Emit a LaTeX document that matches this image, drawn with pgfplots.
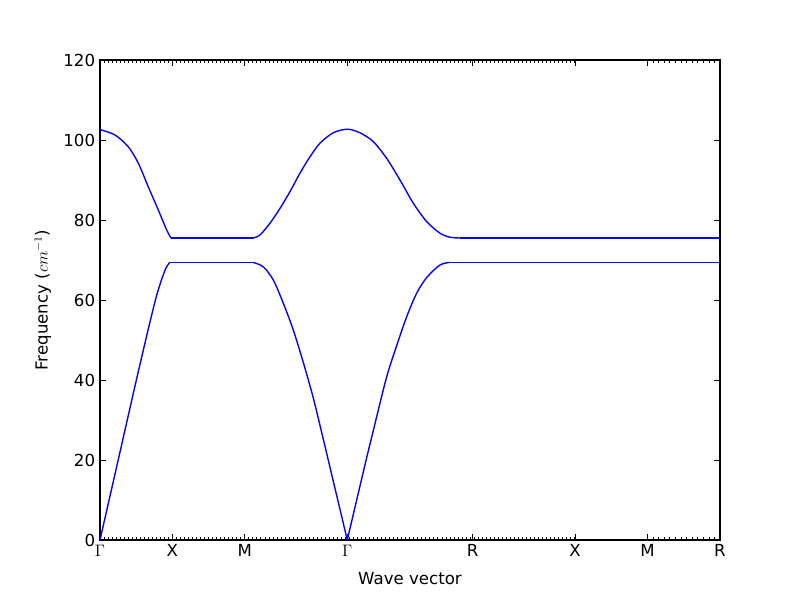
\documentclass[border=0pt]{standalone}
\usepackage{fontspec}
\setmainfont{DejaVu Sans}
\usepackage{pgfplots}
\pgfplotsset{compat=1.18}

\begin{document}
\begin{tikzpicture}
\begin{axis}[
    name=ax,
    scale only axis,
    width=6.2in, height=4.8in,
    xmin=0, xmax=4.2802,
    ymin=0, ymax=120,
    xtick={0,0.5,1.0,1.7071,2.5731,3.2802,3.7802,4.2802},
    xticklabels={$\Gamma$,X,M,$\Gamma$,R,X,M,R},
    minor xtick={0,0.027778,...,3.29,3.7802,3.8187,...,4.28},
    ytick={0,20,...,120},
    tick align=inside,
    major tick length=4pt,
    minor tick length=2.4pt,
    every tick/.style={black, line width=0.6pt},
    axis line style={line width=0.8pt},
    tick label style={font=\fontsize{12}{14}\selectfont},
    label style={font=\fontsize{12}{14}\selectfont},
    /pgf/number format/assume math mode=true,
    xlabel={Wave vector},
    ylabel={Frequency ($cm^{-1}$)},
    xlabel style={yshift=-4pt},
    ylabel style={yshift=2pt},
    band/.style={blue, line width=1pt, mark=none},
]
% upper branch
\addplot[band, smooth, tension=0.5] coordinates {
  (0.0000,102.6) (0.1035,101.25) (0.1954,98.3) (0.2644,94.2) (0.3334,88.3)
  (0.4025,82.5) (0.4604,77.5) (0.4900,75.5)
};
\addplot[band] coordinates {(0.4900,75.5) (1.0562,75.5)};
\addplot[band, smooth, tension=0.5] coordinates {
  (1.0562,75.5) (1.1045,76.25) (1.1735,79.2) (1.2426,82.9) (1.3116,87.1)
  (1.3806,91.7) (1.4497,95.8) (1.5187,99.2) (1.6105,101.8) (1.7071,102.7)
  (1.7948,101.8) (1.8866,99.6) (1.9791,95.4) (2.0710,90.0) (2.1628,84.2)
  (2.2553,79.6) (2.3471,76.7) (2.4161,75.7) (2.4852,75.5)
};
\addplot[band] coordinates {(2.4852,75.5) (4.2802,75.5)};
% lower branch
\addplot[band, smooth, tension=0.4] coordinates {
  (0.0000,0.0) (0.1256,20.0) (0.2511,40.0) (0.3450,54.5) (0.3900,61.0)
  (0.4259,65.2) (0.4556,68.0) (0.4810,69.4)
};
\addplot[band] coordinates {(0.4810,69.4) (1.0562,69.4)};
\addplot[band, smooth, tension=0.5] coordinates {
  (1.0562,69.4) (1.1273,68.3) (1.1963,65.0) (1.2654,59.2) (1.3344,52.5)
  (1.4034,44.4) (1.4725,35.5) (1.5415,25.2) (1.6105,14.7) (1.7071,0.0)
};
\addplot[band, smooth, tension=0.5] coordinates {
  (1.7071,0.0) (1.7721,10.0) (1.8411,20.6) (1.9101,30.8) (1.9791,40.8)
  (2.0482,48.6) (2.1172,55.8) (2.1862,61.7) (2.2553,65.6) (2.3471,68.75)
  (2.4161,69.4)
};
\addplot[band] coordinates {(2.4161,69.4) (4.2802,69.4)};
\end{axis}
\path ([shift={(-1in,-0.6in)}]ax.south west) rectangle ([shift={(0.8in,0.6in)}]ax.north east);
\end{tikzpicture}
\end{document}
